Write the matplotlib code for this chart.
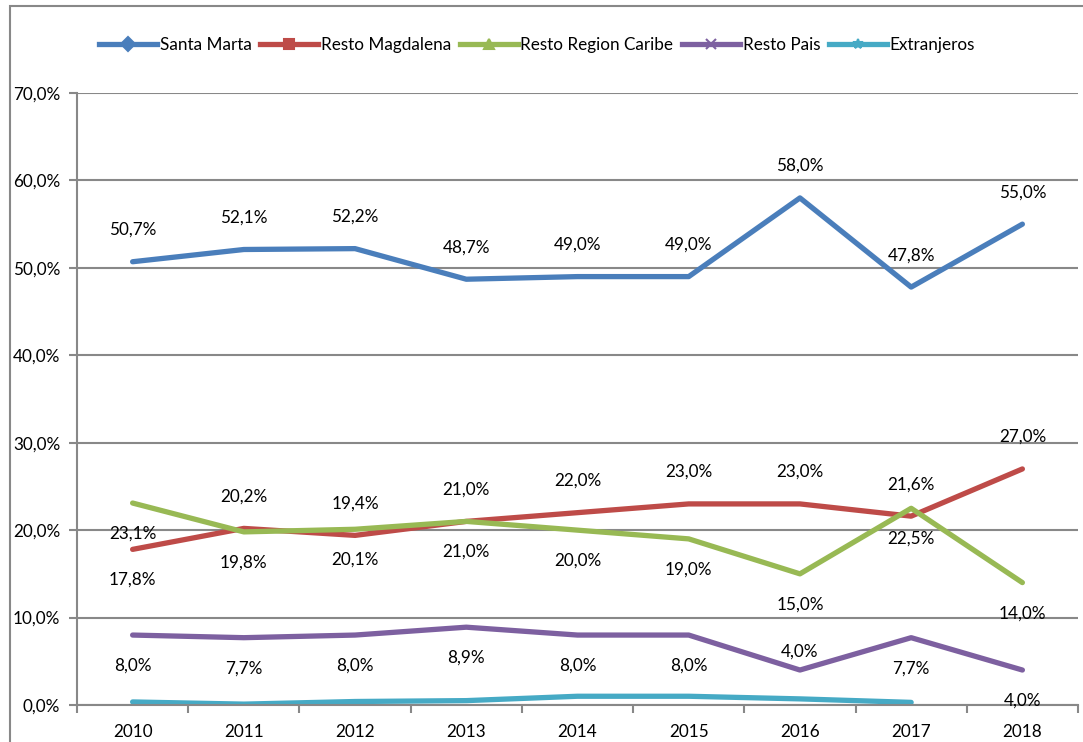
import matplotlib
matplotlib.use("Agg")
import matplotlib.pyplot as plt
from matplotlib.patches import Rectangle
import numpy as np

plt.rcParams['font.family'] = ['Lato', 'DejaVu Sans']

years = ['2010', '2011', '2012', '2013', '2014', '2015', '2016', '2017', '2018']
santa_marta = [50.7, 52.1, 52.2, 48.7, 49.0, 49.0, 58.0, 47.8, 55.0]
resto_magdalena = [17.8, 20.2, 19.4, 21.0, 22.0, 23.0, 23.0, 21.6, 27.0]
resto_caribe = [23.1, 19.8, 20.1, 21.0, 20.0, 19.0, 15.0, 22.5, 14.0]
resto_pais = [8.0, 7.7, 8.0, 8.9, 8.0, 8.0, 4.0, 7.7, 4.0]
extranjeros = [0.35, 0.1, 0.4, 0.5, 1.0, 1.0, 0.7, 0.3, np.nan]

names = ['Santa Marta', 'Resto Magdalena', 'Resto Region Caribe', 'Resto Pais', 'Extranjeros']
colors = ['#4A7EBB', '#BE4B48', '#98B954', '#7D60A0', '#46AAC5']
markers = ['D', 's', '^', 'x', '*']

# label offsets in points (up / down per point)
up, dn = 23, -22
offs = [
    [up] * 9,
    [dn, up, up, up, up, up, up, up, up],
    [dn] * 9,
    [dn, dn, dn, dn, dn, dn, up - 10, dn, dn],
]

fig = plt.figure(figsize=(10.83, 7.42), dpi=100)
fig.patches.append(Rectangle((10 / 1083, -0.1), 1.2, 1.1 - 6 / 742,
                             transform=fig.transFigure, fill=False,
                             edgecolor='#888888', linewidth=1.5))
ax = fig.add_axes([77 / 1083, 1 - 705 / 742, 1001 / 1083, 612 / 742])

x = np.arange(len(years))
series = [santa_marta, resto_magdalena, resto_caribe, resto_pais, extranjeros]
for i, s in enumerate(series):
    ax.plot(x, s, color=colors[i], linewidth=3.8, solid_capstyle='round',
            solid_joinstyle='round', label=names[i])

for i, s in enumerate(series[:4]):
    for j, v in enumerate(s):
        ax.annotate(f'{v:.1f}%'.replace('.', ','), (x[j], v),
                    xytext=(0, offs[i][j]), textcoords='offset points',
                    ha='center', va='center', fontsize=12.3)

ax.set_xlim(-0.5, len(years) - 0.5)
ax.set_ylim(0, 70)
ax.set_yticks(np.arange(0, 71, 10))
ax.set_yticklabels([f'{v:.1f}%'.replace('.', ',') for v in np.arange(0, 71, 10)], fontsize=12.3)
ax.set_xticks(np.arange(-0.5, len(years), 1))
ax.set_xticklabels([])
ax.set_xticks(x, minor=True)
ax.set_xticklabels(years, minor=True, fontsize=12.3)
ax.tick_params(axis='x', which='minor', length=0, pad=14)
ax.tick_params(axis='x', which='major', length=6, width=1.5, color='#888888')
ax.tick_params(axis='y', length=6, width=1.5, color='#888888', pad=6)
ax.grid(axis='y', color='#888888', linewidth=1.5)
ax.set_axisbelow(True)
for sp in ['top', 'right']:
    ax.spines[sp].set_visible(False)
for sp in ['left', 'bottom']:
    ax.spines[sp].set_color('#888888')
    ax.spines[sp].set_linewidth(1.5)

handles = [plt.Line2D([], [], color=colors[i], linewidth=3.8, marker=markers[i],
                      markersize=7, mew=1.5) for i in range(5)]
fig.legend(handles, names, loc='center', bbox_to_anchor=(537 / 1083, 1 - 45 / 742),
           ncol=5, frameon=False, fontsize=12.3, handlelength=3.4,
           handletextpad=0.15, columnspacing=0.5)

plt.savefig('out.png', dpi=100)
